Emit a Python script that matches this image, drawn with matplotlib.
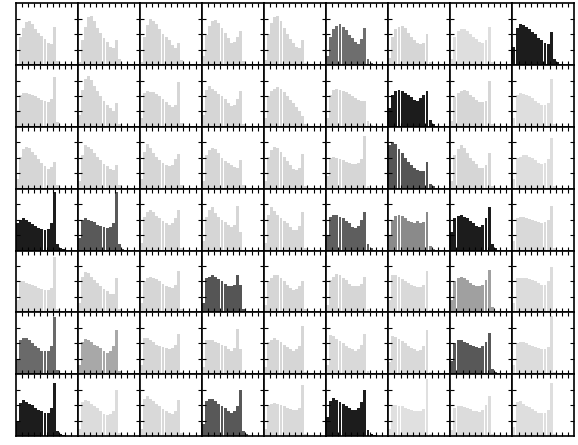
import matplotlib
matplotlib.use("Agg")
import matplotlib.pyplot as plt

# bin centres shared by every panel (axis units 0..1)
bin_centres = [0.025, 0.075, 0.125, 0.175, 0.225, 0.275, 0.325, 0.375, 0.425,
               0.475, 0.525, 0.575, 0.625, 0.675, 0.725, 0.775, 0.825]

# bar heights in percent of panel height, one list per panel, left to right
row0 = [
    [0, 45, 60, 70, 72, 66, 58, 52, 47, 42, 36, 34, 62, 6, 2, 0, 0],
    [5, 40, 62, 78, 80, 72, 60, 52, 44, 38, 30, 28, 40, 10, 0, 0, 0],
    [5, 45, 65, 74, 72, 66, 58, 50, 45, 40, 33, 28, 35, 8, 0, 0, 0],
    [15, 48, 64, 72, 73, 68, 60, 52, 44, 35, 38, 45, 55, 6, 0, 0, 0],
    [8, 50, 68, 78, 80, 72, 60, 50, 42, 36, 30, 27, 40, 4, 0, 0, 0],
    [15, 45, 58, 64, 66, 62, 56, 48, 44, 38, 34, 42, 60, 10, 4, 0, 0],
    [12, 45, 58, 62, 64, 60, 52, 46, 40, 36, 34, 36, 50, 5, 0, 0, 0],
    [10, 45, 55, 58, 58, 55, 50, 46, 42, 37, 36, 40, 62, 5, 0, 0, 0],
    [30, 60, 66, 65, 62, 58, 54, 50, 44, 40, 36, 34, 54, 10, 5, 2, 0],
]
row1 = [
    [25, 52, 55, 55, 54, 52, 50, 47, 44, 42, 40, 45, 80, 8, 0, 0, 0],
    [20, 60, 78, 82, 76, 66, 58, 50, 42, 36, 30, 25, 38, 5, 0, 0, 0],
    [15, 55, 58, 57, 56, 54, 50, 45, 40, 35, 33, 36, 72, 6, 0, 0, 0],
    [20, 60, 66, 62, 58, 54, 50, 45, 38, 34, 36, 45, 58, 5, 0, 0, 0],
    [15, 50, 58, 62, 64, 62, 56, 50, 44, 38, 32, 26, 18, 4, 0, 0, 0],
    [15, 52, 60, 62, 60, 58, 56, 54, 50, 46, 44, 42, 42, 10, 3, 0, 0],
    [30, 52, 58, 60, 58, 55, 52, 48, 44, 42, 46, 52, 58, 12, 5, 2, 0],
    [10, 48, 55, 58, 60, 58, 52, 48, 44, 41, 40, 42, 75, 5, 0, 0, 0],
    [15, 52, 55, 54, 52, 50, 46, 42, 38, 36, 35, 38, 77, 5, 0, 0, 0],
]
row2 = [
    [15, 52, 64, 68, 66, 60, 54, 48, 42, 36, 32, 35, 44, 6, 0, 0, 0],
    [12, 55, 70, 68, 64, 58, 52, 46, 40, 36, 32, 30, 38, 6, 0, 0, 0],
    [15, 60, 72, 66, 58, 52, 46, 42, 38, 36, 38, 48, 57, 6, 0, 0, 0],
    [12, 55, 62, 66, 64, 58, 50, 45, 42, 38, 35, 34, 47, 6, 0, 0, 0],
    [12, 52, 62, 68, 66, 60, 52, 45, 38, 32, 30, 34, 57, 5, 0, 0, 0],
    [20, 50, 52, 50, 48, 46, 44, 42, 40, 40, 42, 48, 85, 5, 0, 0, 0],
    [70, 76, 72, 65, 58, 50, 44, 38, 33, 30, 28, 28, 44, 8, 4, 1, 0],
    [12, 55, 65, 70, 66, 58, 50, 45, 40, 34, 33, 38, 58, 5, 0, 0, 0],
    [15, 50, 52, 54, 54, 52, 50, 46, 42, 40, 42, 48, 82, 5, 0, 0, 0],
]
row3 = [
    [45, 50, 52, 50, 46, 43, 40, 37, 35, 33, 35, 45, 95, 10, 4, 2, 0],
    [20, 50, 52, 50, 48, 46, 42, 40, 38, 36, 38, 45, 95, 10, 3, 1, 0],
    [12, 55, 62, 65, 62, 56, 52, 48, 44, 42, 44, 52, 65, 4, 0, 0, 0],
    [15, 55, 65, 70, 60, 54, 50, 46, 42, 38, 42, 72, 30, 0, 0, 0, 0],
    [12, 58, 70, 64, 58, 52, 48, 44, 38, 33, 34, 40, 63, 4, 0, 0, 0],
    [25, 54, 58, 57, 55, 52, 48, 44, 38, 36, 40, 50, 62, 10, 4, 1, 0],
    [25, 50, 56, 57, 56, 52, 48, 46, 44, 48, 44, 46, 63, 8, 3, 1, 0],
    [30, 52, 56, 57, 54, 52, 48, 44, 40, 38, 42, 52, 70, 10, 4, 1, 0],
    [15, 52, 54, 54, 52, 51, 50, 48, 46, 45, 46, 50, 72, 4, 0, 0, 0],
]
row4 = [
    [20, 50, 50, 48, 46, 44, 42, 40, 38, 37, 37, 40, 89, 5, 0, 0, 0],
    [15, 58, 66, 64, 58, 52, 48, 42, 38, 34, 30, 30, 56, 5, 0, 0, 0],
    [15, 50, 55, 58, 56, 54, 50, 46, 42, 41, 40, 44, 67, 5, 0, 0, 0],
    [15, 55, 58, 60, 58, 54, 50, 46, 42, 42, 44, 61, 45, 6, 3, 1, 0],
    [12, 50, 56, 60, 61, 56, 50, 45, 40, 37, 38, 42, 50, 5, 0, 0, 0],
    [12, 52, 58, 62, 60, 56, 52, 46, 43, 42, 42, 46, 57, 5, 0, 0, 0],
    [20, 60, 60, 57, 54, 50, 47, 45, 42, 41, 41, 45, 67, 4, 0, 0, 0],
    [20, 50, 56, 58, 56, 52, 48, 45, 42, 42, 45, 52, 68, 8, 3, 1, 0],
    [15, 55, 56, 56, 55, 54, 52, 50, 47, 45, 44, 50, 73, 4, 0, 0, 0],
]
row5 = [
    [25, 55, 59, 58, 55, 50, 46, 42, 38, 37, 38, 45, 92, 6, 2, 0, 0],
    [15, 52, 57, 55, 52, 48, 46, 42, 38, 35, 38, 45, 71, 5, 0, 0, 0],
    [15, 58, 59, 56, 52, 48, 46, 44, 42, 40, 42, 48, 65, 4, 0, 0, 0],
    [12, 55, 56, 55, 52, 50, 48, 45, 40, 38, 42, 73, 40, 4, 0, 0, 0],
    [12, 52, 56, 58, 56, 52, 48, 44, 40, 38, 40, 46, 78, 4, 0, 0, 0],
    [15, 64, 62, 57, 54, 50, 46, 43, 40, 38, 40, 48, 65, 5, 0, 0, 0],
    [20, 62, 60, 57, 54, 50, 46, 43, 40, 38, 39, 45, 71, 4, 0, 0, 0],
    [22, 50, 56, 55, 52, 50, 48, 46, 44, 43, 45, 52, 66, 8, 3, 1, 0],
    [15, 50, 52, 52, 50, 48, 46, 44, 42, 40, 40, 44, 94, 4, 0, 0, 0],
]
row6 = [
    [25, 54, 58, 55, 52, 50, 46, 42, 40, 38, 38, 45, 86, 8, 3, 1, 0],
    [12, 55, 58, 56, 52, 48, 45, 40, 36, 34, 35, 40, 74, 5, 0, 0, 0],
    [12, 60, 64, 60, 56, 52, 48, 44, 40, 38, 36, 40, 58, 5, 0, 0, 0],
    [20, 56, 60, 60, 56, 52, 48, 45, 40, 38, 40, 48, 74, 8, 3, 0, 0],
    [12, 50, 52, 53, 52, 50, 48, 46, 44, 42, 42, 46, 83, 4, 0, 0, 0],
    [30, 56, 61, 58, 55, 52, 48, 45, 42, 42, 45, 55, 74, 10, 4, 1, 0],
    [12, 50, 50, 49, 48, 46, 44, 42, 40, 40, 40, 44, 93, 4, 0, 0, 0],
    [10, 46, 48, 48, 47, 45, 43, 41, 40, 39, 42, 50, 64, 3, 0, 0, 0],
    [15, 55, 56, 52, 49, 47, 44, 40, 38, 37, 38, 42, 85, 4, 0, 0, 0],
]

# grey shade of each panel
shades0 = ["#d6d6d6", "#d6d6d6", "#d6d6d6", "#d6d6d6", "#d6d6d6", "#6e6e6e", "#d6d6d6", "#dedede", "#1c1c1c"]
shades1 = ["#d6d6d6", "#d6d6d6", "#d6d6d6", "#d6d6d6", "#d6d6d6", "#d6d6d6", "#1c1c1c", "#d6d6d6", "#dedede"]
shades2 = ["#d6d6d6", "#d6d6d6", "#d6d6d6", "#d6d6d6", "#d6d6d6", "#d6d6d6", "#555555", "#d6d6d6", "#dedede"]
shades3 = ["#1c1c1c", "#595959", "#d6d6d6", "#d6d6d6", "#d6d6d6", "#5e5e5e", "#8a8a8a", "#1c1c1c", "#d9d9d9"]
shades4 = ["#d9d9d9", "#d6d6d6", "#d6d6d6", "#555555", "#d6d6d6", "#d6d6d6", "#d9d9d9", "#a0a0a0", "#dcdcdc"]
shades5 = ["#6a6a6a", "#a8a8a8", "#d6d6d6", "#d6d6d6", "#d6d6d6", "#d9d9d9", "#d9d9d9", "#585858", "#dcdcdc"]
shades6 = ["#1c1c1c", "#dcdcdc", "#d9d9d9", "#585858", "#d9d9d9", "#1c1c1c", "#e0e0e0", "#dcdcdc", "#dedede"]

heights = [row0, row1, row2, row3, row4, row5, row6]
shades = [shades0, shades1, shades2, shades3, shades4, shades5, shades6]

fig, axes = plt.subplots(7, 9, figsize=(5.78, 4.45), dpi=100)
fig.subplots_adjust(left=15.5 / 578, right=574.5 / 578,
                    top=1 - 3.3 / 445, bottom=1 - 436 / 445,
                    wspace=0, hspace=0)

for r in range(7):
    for c in range(9):
        ax = axes[r, c]
        h = [v / 100 for v in heights[r][c]]
        ax.bar(bin_centres, h, width=0.047, color=shades[r][c], linewidth=0)
        ax.set_xlim(0, 1)
        ax.set_ylim(0, 1)
        ax.set_xticks([0.1, 0.2, 0.3, 0.4, 0.5, 0.6, 0.7, 0.8, 0.9])
        ax.set_yticks([0.25, 0.5, 0.75])
        ax.tick_params(direction='in', top=True, right=True, length=3,
                       width=0.8, labelbottom=False, labelleft=False)
        for s in ax.spines.values():
            s.set_linewidth(1.2)

plt.savefig("out.png", dpi=100)
